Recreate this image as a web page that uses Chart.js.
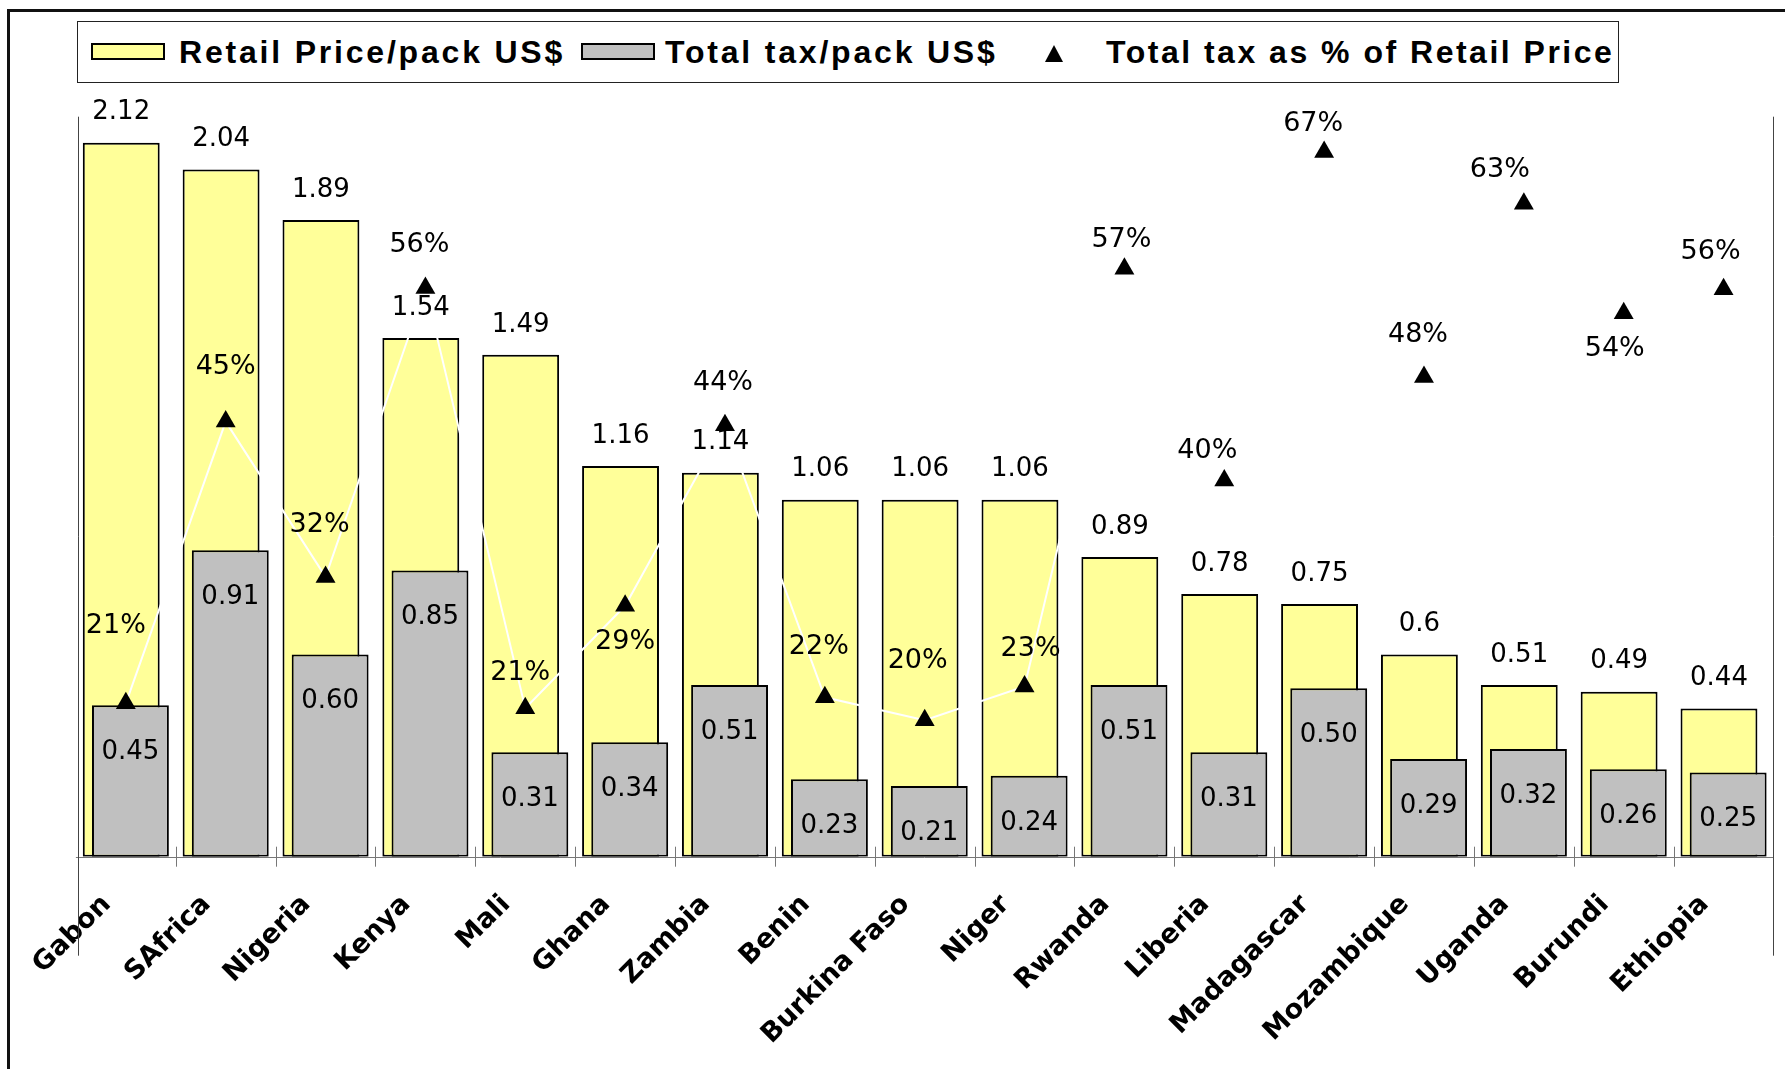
<!DOCTYPE html>
<html>
<head>
<meta charset="utf-8">
<script src="https://cdn.jsdelivr.net/npm/chart.js@4/dist/chart.umd.min.js"></script>
<style>
  html, body { margin: 0; padding: 0; background: #fff; }
  #wrap { position: relative; width: 1785px; height: 1069px; overflow: hidden; }
  #frame { position: absolute; left: 7px; top: 9px; width: 3000px; height: 3000px; border-left: 3px solid #111; border-top: 3px solid #111; }
  #chartBox { position: absolute; left: 0; top: 0; width: 1785px; height: 1069px; }
  #legend { position: absolute; left: 77px; top: 21px; width: 1540px; height: 60px; border: 1px solid #222; background: #fff; }
  .sw { position: absolute; top: 43px; width: 70px; height: 13px; border: 2px solid #000; }
  .lt { position: absolute; top: 36px; font: bold 32px "Liberation Sans", Arial, sans-serif; line-height: 32px; letter-spacing: 2.8px; color: #000; white-space: nowrap; }
  .tri { position: absolute; left: 1045px; top: 45px; width: 0; height: 0; border-left: 9px solid transparent; border-right: 9px solid transparent; border-bottom: 17px solid #000; }
</style>
</head>
<body>
<div id="wrap">
  <div id="frame"></div>
  <div id="chartBox"><canvas id="chart"></canvas></div>
  <div id="legend"></div>
  <div class="sw" id="sw1" style="left:91px"></div>
  <span class="lt" id="lt1" style="left:179px"></span>
  <div class="sw" id="sw2" style="left:581px"></div>
  <span class="lt" id="lt2" style="left:665px"></span>
  <div class="tri"></div>
  <span class="lt" id="lt3" style="left:1106px; letter-spacing: 2.5px"></span>
</div>
<script>
// --- DATA ---
const countries = ['Gabon', 'SAfrica', 'Nigeria', 'Kenya', 'Mali', 'Ghana', 'Zambia', 'Benin', 'Burkina Faso',
  'Niger', 'Rwanda', 'Liberia', 'Madagascar', 'Mozambique', 'Uganda', 'Burundi', 'Ethiopia'];
const retailPrice = [2.12, 2.04, 1.89, 1.54, 1.49, 1.16, 1.14, 1.06, 1.06, 1.06, 0.89, 0.78, 0.75, 0.6, 0.51, 0.49, 0.44];
const totalTax = [0.45, 0.91, 0.60, 0.85, 0.31, 0.34, 0.51, 0.23, 0.21, 0.24, 0.51, 0.31, 0.50, 0.29, 0.32, 0.26, 0.25];
const taxShare = [0.212, 0.446, 0.317, 0.557, 0.208, 0.293, 0.443, 0.217, 0.198, 0.226, 0.573, 0.397, 0.670, 0.483, 0.627, 0.536, 0.556];
const seriesNames = ['Retail Price/pack US$', 'Total tax/pack US$', 'Total tax as % of Retail Price'];

// placement of the % labels around each triangle (px, hand placed in the original)
const pctLabelOffsets = [[-10, -77], [0, -55], [-6, -52], [-6, -43], [-5, -35], [0, 36], [-2, -42], [-6, -50],
  [-7, -59], [6, -37], [-3, -29], [-17, -30], [-11, -28], [-6, -42], [-24, -34], [-9, 36], [-13, -37]];

const YELLOW = '#FFFF99';
const GREY = '#C0C0C0';
const FONT = '"DejaVu Sans", Verdana, sans-serif';

// --- LEGEND ---
document.getElementById('sw1').style.background = YELLOW;
document.getElementById('sw2').style.background = GREY;
document.getElementById('lt1').textContent = seriesNames[0];
document.getElementById('lt2').textContent = seriesNames[1];
document.getElementById('lt3').textContent = seriesNames[2];

// --- PLUGIN : axe, graduations, étiquettes ---
const decorPlugin = {
  id: 'decor',
  beforeDatasetsDraw(chart) {
    const { ctx, chartArea: { left, right, top, bottom } } = chart;
    const w = (right - left) / countries.length;
    ctx.save();
    ctx.lineWidth = 1;
    ctx.strokeStyle = '#777';
    ctx.beginPath();
    ctx.moveTo(left, Math.round(bottom) + 0.5);
    ctx.lineTo(right, Math.round(bottom) + 0.5);
    ctx.stroke();
    for (let i = 1; i < countries.length; i++) {
      const xp = Math.round(left + i * w) + 0.5;
      ctx.beginPath();
      ctx.moveTo(xp, bottom - 10);
      ctx.lineTo(xp, bottom + 10);
      ctx.stroke();
    }
    ctx.strokeStyle = '#444';
    [left + 2, right - 1].forEach(xx => {
      const xp = Math.round(xx) + 0.5;
      ctx.beginPath();
      ctx.moveTo(xp, top + 1);
      ctx.lineTo(xp, bottom + 99);
      ctx.stroke();
    });
    ctx.restore();
  },
  afterDatasetsDraw(chart) {
    const { ctx } = chart;
    ctx.save();
    ctx.fillStyle = '#000';
    ctx.textAlign = 'center';
    ctx.textBaseline = 'middle';
    ctx.font = '26px ' + FONT;
    chart.getDatasetMeta(0).data.forEach((el, i) => {
      ctx.fillText(String(retailPrice[i]), el.x, el.y - 30);
    });
    chart.getDatasetMeta(1).data.forEach((el, i) => {
      ctx.fillText(totalTax[i].toFixed(2), el.x, el.y + 47);
    });
    ctx.font = '27px ' + FONT;
    chart.getDatasetMeta(2).data.forEach((el, i) => {
      const [dx, dy] = pctLabelOffsets[i];
      ctx.fillText(Math.round(taxShare[i] * 100) + '%', el.x + dx, el.y + dy);
    });
    ctx.restore();
  }
};

// --- CHART ---
new Chart(document.getElementById('chart'), {
  type: 'bar',
  data: {
    labels: countries,
    datasets: [
      { label: seriesNames[0], data: retailPrice, backgroundColor: YELLOW, borderColor: '#000', borderWidth: 2,
        borderSkipped: false, stack: 'price', order: 2, yAxisID: 'y' },
      { label: seriesNames[1], data: totalTax, backgroundColor: GREY, borderColor: '#000', borderWidth: 2,
        borderSkipped: false, stack: 'tax', order: 1, yAxisID: 'y' },
      { type: 'line', label: seriesNames[2], data: taxShare, yAxisID: 'y2', order: 0,
        borderColor: '#fff', borderWidth: 2, tension: 0,
        pointStyle: 'triangle', pointRadius: 11.5, pointBackgroundColor: '#000', pointBorderColor: '#000', pointBorderWidth: 0 }
    ]
  },
  options: {
    responsive: true, maintainAspectRatio: false, animation: false,
    // negative percentages flip the two slots: grey (drawn on top) lands on the right
    categoryPercentage: -0.184, barPercentage: -8.37,
    layout: { padding: { left: 75.9, right: 9.1, top: 115.7, bottom: 0 } },
    plugins: { legend: { display: false }, tooltip: { enabled: false } },
    scales: {
      x: {
        grid: { display: false, drawTicks: false }, border: { display: false },
        ticks: { autoSkip: false, minRotation: 45, maxRotation: 45, padding: 32, labelOffset: -19, color: '#000',
          font: { family: FONT, size: 27, weight: 'bold' } },
        afterFit: s => { s.height = 1069 - 856.7; }
      },
      y: { display: false, min: 0, max: 2.2 },
      y2: { display: false, position: 'right', min: 0.0846, max: 0.7001 }
    }
  },
  plugins: [decorPlugin]
});
</script>
</body>
</html>
